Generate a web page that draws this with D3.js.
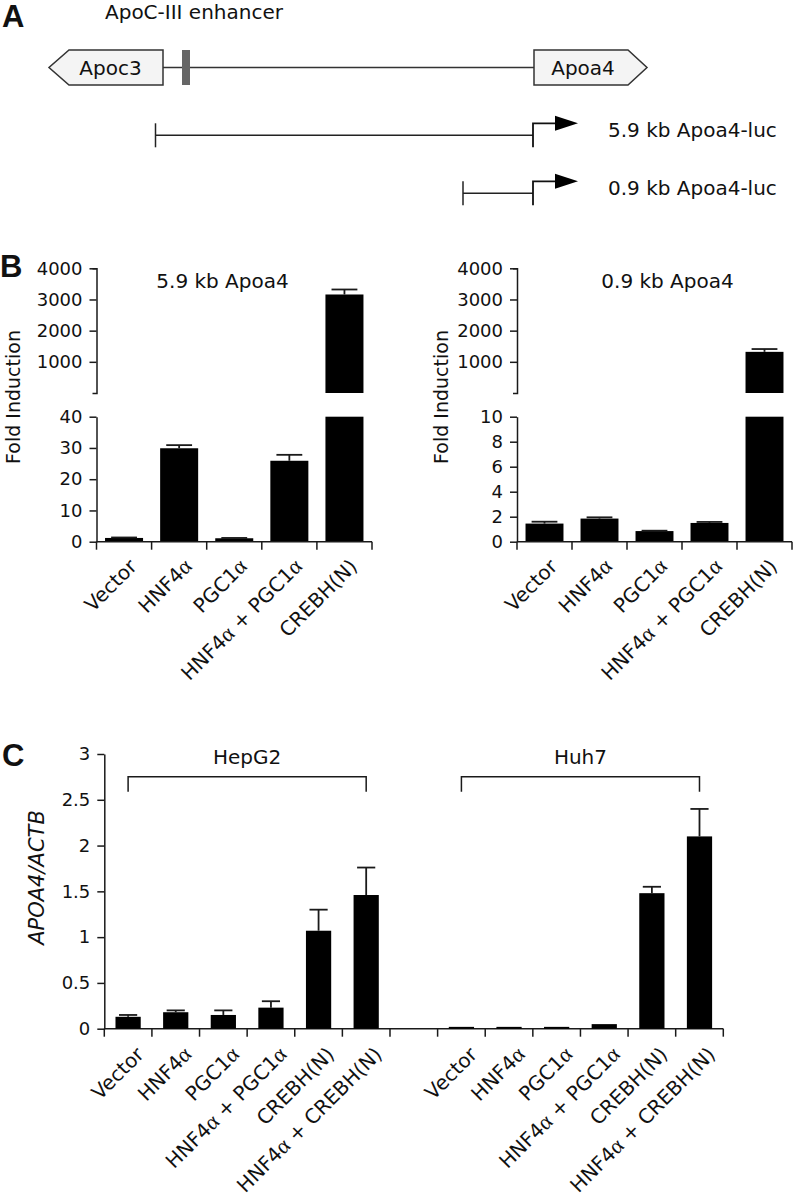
<!DOCTYPE html>
<html><head><meta charset="utf-8">
<script src="https://cdn.jsdelivr.net/npm/d3@7"></script>
<style>
body{margin:0;background:#fff}
svg{display:block}
text{font-family:"DejaVu Sans",sans-serif;fill:#111}
</style></head><body>
<svg id="fig" width="797" height="1202"></svg>
<script>
// ---------- Panel B data ----------
const bCategories = ["Vector", "HNF4α", "PGC1α", "HNF4α + PGC1α", "CREBH(N)"];
const b59Values = [1.2, 29.9, 1.1, 25.9, 3160];
const b59Errors = [0.15, 1.0, 0.1, 1.9, 160];
const b09Values = [1.45, 1.85, 0.85, 1.5, 1320];
const b09Errors = [0.15, 0.1, 0.03, 0.08, 90];
const bUpperTicks = [1000, 2000, 3000, 4000];
const b59LowerTicks = [0, 10, 20, 30, 40];
const b09LowerTicks = [0, 2, 4, 6, 8, 10];
const bTitles = ["5.9 kb Apoa4", "0.9 kb Apoa4"];

// ---------- Panel C data ----------
const cCategories = ["Vector", "HNF4α", "PGC1α", "HNF4α + PGC1α", "CREBH(N)", "HNF4α + CREBH(N)"];
const cGroups = ["HepG2", "Huh7"];
const hepg2Values = [0.13, 0.18, 0.15, 0.23, 1.07, 1.46];
const hepg2Errors = [0.02, 0.02, 0.05, 0.07, 0.23, 0.30];
const huh7Values = [0.02, 0.02, 0.02, 0.05, 1.48, 2.10];
const huh7Errors = [0, 0, 0, 0, 0.07, 0.30];
const cTicks = [0, 0.5, 1, 1.5, 2, 2.5, 3];
const cTickLabels = ["0", "0.5", "1", "1.5", "2", "2.5", "3"];

// ---------- Panel A labels ----------
const genes = ["Apoc3", "Apoa4"];
const constructs = ["5.9 kb Apoa4-luc", "0.9 kb Apoa4-luc"];

const svg = d3.select("#fig");
const INK = "#1a1a1a";

function panelLetter(t, x, y) {
  svg.append("text").attr("x", x).attr("y", y).text(t)
    .style("font-family", "'Liberation Sans', Arial, sans-serif")
    .style("font-weight", "bold").style("font-size", "31px").attr("fill", "#000");
}

// category label with serif alpha
function catLabel(g, text, x, y, size) {
  const t = g.append("text").attr("text-anchor", "end").style("font-size", size + "px")
    .attr("transform", `translate(${x},${y}) rotate(-45)`);
  text.split(/(α)/).filter(s => s.length).forEach(part => {
    const ts = t.append("tspan").text(part);
    if (part === "α") ts.style("font-family", "'Liberation Serif',serif").style("font-size", (size + 2) + "px");
  });
}

// ================= Panel A =================
(function () {
  panelLetter("A", 2, 27);
  const g = svg.append("g");
  g.append("text").attr("x", 105).attr("y", 19).style("font-size", "20px").text("ApoC-III enhancer");
  g.append("line").attr("x1", 163).attr("x2", 534).attr("y1", 67.5).attr("y2", 67.5)
    .attr("stroke", "#333").attr("stroke-width", 1.5);
  const line = d3.line();
  g.append("path").attr("d", line([[163, 50], [69, 50], [49, 67.5], [69, 85], [163, 85]]) + "Z")
    .attr("fill", "#f4f4f4").attr("stroke", "#333").attr("stroke-width", 1.5);
  g.append("text").attr("x", 110.5).attr("y", 67.5).attr("dy", "0.35em").attr("text-anchor", "middle")
    .style("font-size", "20px").text(genes[0]);
  g.append("path").attr("d", line([[534, 50], [628, 50], [647, 67.5], [628, 85], [534, 85]]) + "Z")
    .attr("fill", "#f4f4f4").attr("stroke", "#333").attr("stroke-width", 1.5);
  g.append("text").attr("x", 583).attr("y", 67.5).attr("dy", "0.35em").attr("text-anchor", "middle")
    .style("font-size", "20px").text(genes[1]);
  g.append("rect").attr("x", 182).attr("y", 50).attr("width", 8).attr("height", 35).attr("fill", "#666");

  const rows = [{start: 155.5, y: 135.3, label: constructs[0]}, {start: 463, y: 193.3, label: constructs[1]}];
  rows.forEach(r => {
    const tss = 533;
    g.append("line").attr("x1", r.start).attr("x2", tss).attr("y1", r.y).attr("y2", r.y)
      .attr("stroke", "#222").attr("stroke-width", 1.5);
    g.append("line").attr("x1", r.start).attr("x2", r.start).attr("y1", r.y - 12).attr("y2", r.y + 12)
      .attr("stroke", "#222").attr("stroke-width", 1.5);
    const top = r.y - 12;
    g.append("path").attr("d", line([[tss, r.y + 12], [tss, top], [556, top]]))
      .attr("fill", "none").attr("stroke", "#111").attr("stroke-width", 1.8);
    g.append("path").attr("d", line([[555, top - 7.5], [578, top], [555, top + 7.5]]) + "Z").attr("fill", "#000");
    g.append("text").attr("x", 608).attr("y", r.y + 2).style("font-size", "20px").text(r.label);
  });
})();

// ================= Panel B =================
function brokenPanel(axisX, rightX, values, errors, lowerMax, lowerTicks, title, titleX, ylabX) {
  const g = svg.append("g");
  const x = d3.scaleBand().domain(bCategories).range([axisX, rightX]).paddingInner(0.31).paddingOuter(0.155);
  const yU = d3.scaleLinear().domain([0, 4000]).range([393, 268.3]);
  const yL = d3.scaleLinear().domain([0, lowerMax]).range([541.7, 416.7]);

  const styleAxis = sel => {
    sel.selectAll("path,line").attr("stroke", INK).attr("stroke-width", 1.5);
    sel.selectAll("text").style("font-size", "18px").style("font-family", "'DejaVu Sans',sans-serif").attr("fill", "#111");
  };
  g.append("g").attr("transform", `translate(${axisX},0)`)
    .call(d3.axisLeft(yU).tickValues(bUpperTicks).tickSize(7).tickSizeOuter(4).tickPadding(7).tickFormat(d3.format("d")))
    .call(styleAxis);
  g.append("g").attr("transform", `translate(${axisX},0)`)
    .call(d3.axisLeft(yL).tickValues(lowerTicks).tickSize(7).tickSizeOuter(0).tickPadding(7).tickFormat(d3.format("d")))
    .call(styleAxis);

  bCategories.forEach((c, i) => {
    const v = values[i], e = errors[i];
    const bx = x(c), bw = x.bandwidth(), cx = bx + bw / 2;
    const lowTop = Math.min(v, lowerMax);
    g.append("rect").attr("x", bx).attr("width", bw).attr("y", yL(lowTop)).attr("height", yL(0) - yL(lowTop)).attr("fill", "#000");
    let ys = yL;
    if (v > lowerMax) {
      g.append("rect").attr("x", bx).attr("width", bw).attr("y", yU(v)).attr("height", yU(0) - yU(v)).attr("fill", "#000");
      ys = yU;
    }
    if (e > 0) {
      const cw = bw * 0.34;
      g.append("line").attr("x1", cx).attr("x2", cx).attr("y1", ys(v)).attr("y2", ys(v + e)).attr("stroke", INK).attr("stroke-width", 1.8);
      g.append("line").attr("x1", cx - cw).attr("x2", cx + cw).attr("y1", ys(v + e)).attr("y2", ys(v + e)).attr("stroke", INK).attr("stroke-width", 1.8);
    }
  });

  const axY = yL(0);
  g.append("line").attr("x1", axisX).attr("x2", rightX).attr("y1", axY).attr("y2", axY).attr("stroke", INK).attr("stroke-width", 1.5);
  d3.range(bCategories.length + 1).forEach(i => {
    const bx = axisX + i * x.step();
    g.append("line").attr("x1", bx).attr("x2", bx).attr("y1", axY).attr("y2", axY + 8).attr("stroke", INK).attr("stroke-width", 1.5);
  });
  bCategories.forEach(c => {
    const cx = x(c) + x.bandwidth() / 2;
    catLabel(g, c, cx + 14, axY + 26, 20);
  });
  g.append("text").attr("x", titleX).attr("y", 288).attr("text-anchor", "middle").style("font-size", "20px").text(title);
  g.append("text").attr("transform", `translate(${ylabX},397) rotate(-90)`).attr("text-anchor", "middle")
    .attr("dy", "0.35em").style("font-size", "19px").text("Fold Induction");
}
panelLetter("B", 0, 277);
brokenPanel(96.5, 372, b59Values, b59Errors, 40, b59LowerTicks, bTitles[0], 222.5, 13);
brokenPanel(517, 792, b09Values, b09Errors, 10, b09LowerTicks, bTitles[1], 667.5, 441);

// ================= Panel C =================
(function () {
  panelLetter("C", 2, 766);
  const g = svg.append("g");
  const slots = [];
  cGroups.forEach((grp, gi) => {
    if (gi > 0) slots.push("gap");
    cCategories.forEach(c => slots.push(grp + "|" + c));
  });
  const x = d3.scaleBand().domain(slots).range([104.3, 723.3]).paddingInner(0.47).paddingOuter(0.235);
  const y = d3.scaleLinear().domain([0, 3]).range([1028.7, 754]);
  g.append("g").attr("transform", "translate(104.3,0)")
    .call(d3.axisLeft(y).tickValues(cTicks).tickSize(7).tickSizeOuter(0).tickPadding(7).tickFormat((d, i) => cTickLabels[i]))
    .call(sel => {
      sel.selectAll("path,line").attr("stroke", INK).attr("stroke-width", 1.5);
      sel.selectAll("text").style("font-size", "18px").style("font-family", "'DejaVu Sans',sans-serif").attr("fill", "#111");
    });
  const axY = y(0);
  g.append("line").attr("x1", 104.3).attr("x2", 723.3).attr("y1", axY).attr("y2", axY).attr("stroke", INK).attr("stroke-width", 1.5);
  d3.range(slots.length + 1).forEach(i => {
    const bx = 104.3 + i * x.step();
    g.append("line").attr("x1", bx).attr("x2", bx).attr("y1", axY).attr("y2", axY + 8).attr("stroke", INK).attr("stroke-width", 1.5);
  });
  const groupData = [hepg2Values, huh7Values];
  const groupErr = [hepg2Errors, huh7Errors];
  cGroups.forEach((grp, gi) => {
    cCategories.forEach((c, i) => {
      const key = grp + "|" + c;
      const v = groupData[gi][i], e = groupErr[gi][i];
      const bx = x(key), bw = x.bandwidth(), cx = bx + bw / 2;
      g.append("rect").attr("x", bx).attr("width", bw).attr("y", y(v)).attr("height", y(0) - y(v)).attr("fill", "#000");
      if (e > 0) {
        const cw = bw * 0.36;
        g.append("line").attr("x1", cx).attr("x2", cx).attr("y1", y(v)).attr("y2", y(v + e)).attr("stroke", INK).attr("stroke-width", 1.8);
        g.append("line").attr("x1", cx - cw).attr("x2", cx + cw).attr("y1", y(v + e)).attr("y2", y(v + e)).attr("stroke", INK).attr("stroke-width", 1.8);
      }
      catLabel(g, c, cx + 17, axY + 27, 20);
    });
    const x0 = x(grp + "|" + cCategories[0]) + x.bandwidth() / 2;
    const x1 = x(grp + "|" + cCategories[cCategories.length - 1]) + x.bandwidth() / 2;
    g.append("path").attr("d", d3.line()([[x0, 791.7], [x0, 776.7], [x1, 776.7], [x1, 791.7]]))
      .attr("fill", "none").attr("stroke", INK).attr("stroke-width", 1.5);
    g.append("text").attr("x", (x0 + x1) / 2).attr("y", 764).attr("text-anchor", "middle").style("font-size", "20px").text(grp);
  });
  g.append("text").attr("transform", "translate(37,877.5) rotate(-90)").attr("text-anchor", "middle")
    .attr("dy", "0.35em").style("font-size", "21px").style("font-style", "italic").text("APOA4/ACTB");
})();
</script>
</body></html>
